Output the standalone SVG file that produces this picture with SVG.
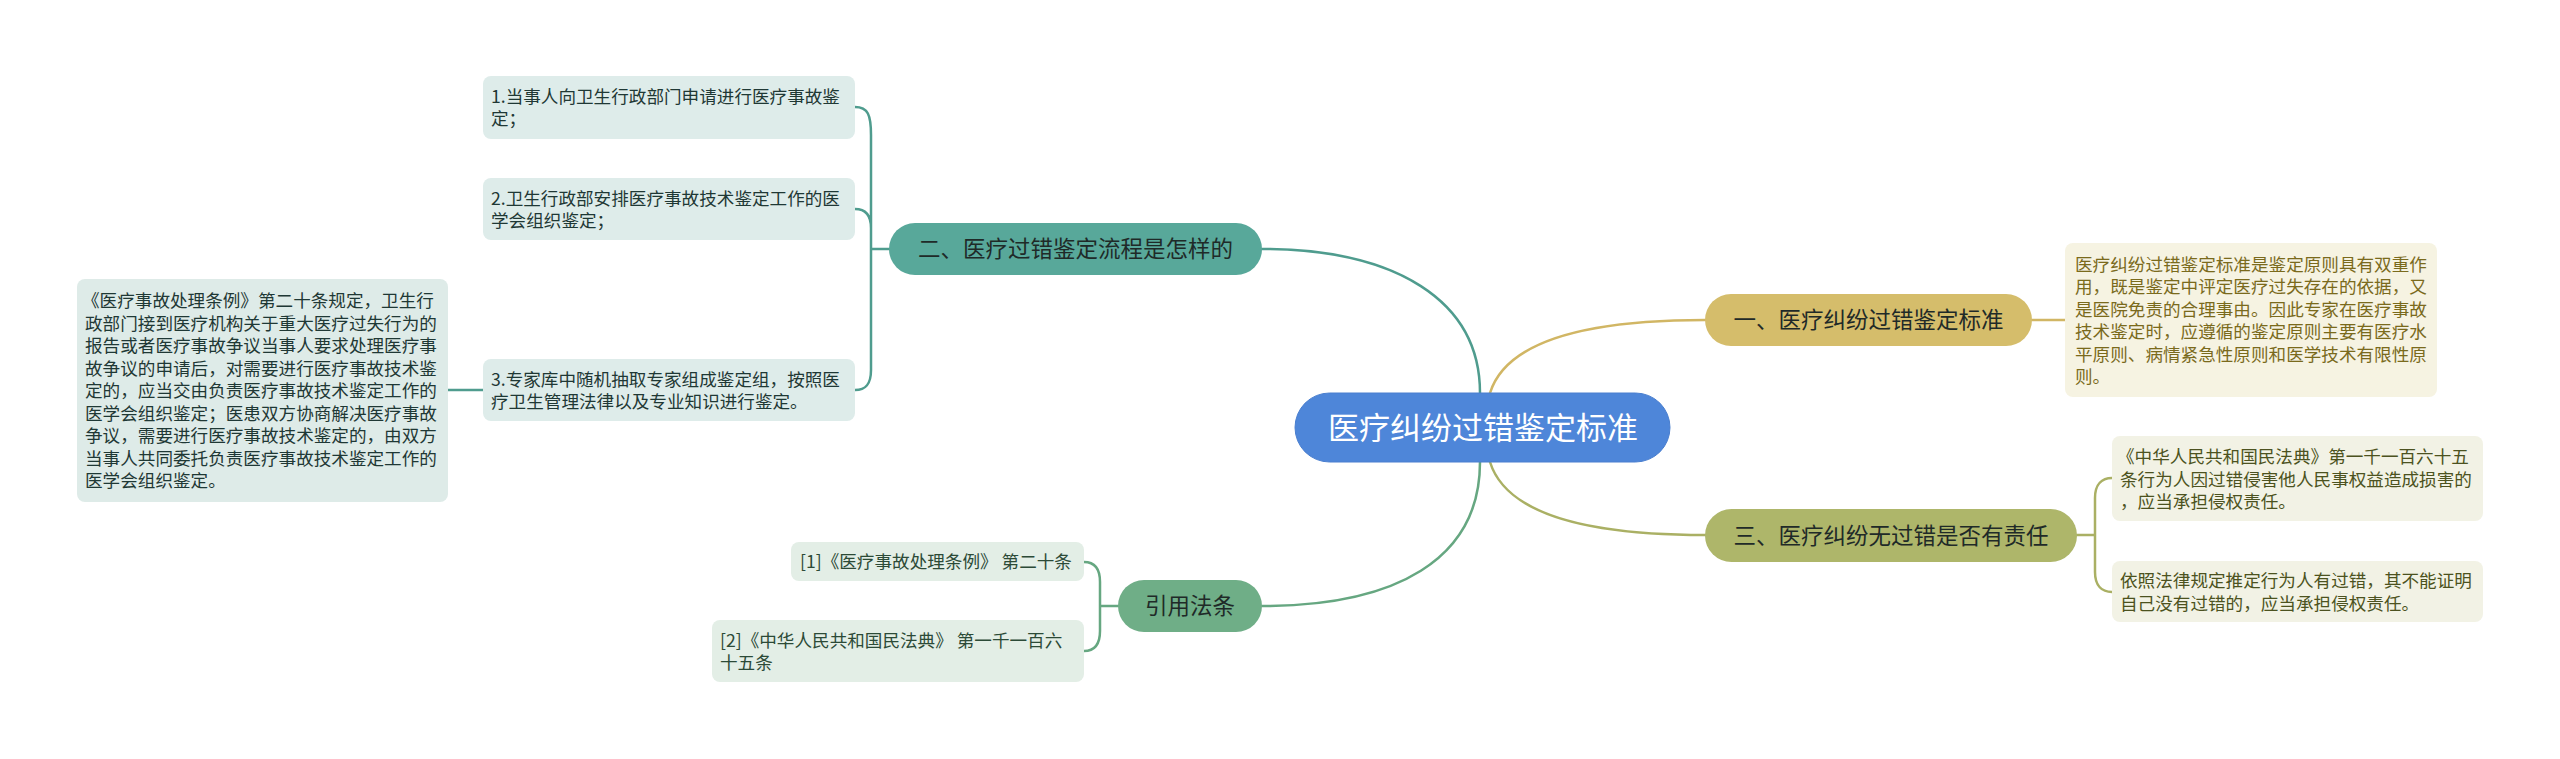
<svg xmlns="http://www.w3.org/2000/svg" width="2560" height="759" viewBox="0 0 2560 759">
<style>
text{font-family:"Microsoft YaHei","Noto Sans CJK SC","Noto Sans",sans-serif;}
.leaf{font-size:17.6px;}
.main{font-size:22.5px;fill:#1f2a28;text-anchor:middle;}
.conn{fill:none;stroke-width:2.5;stroke-linecap:round;}
</style>
<rect width="2560" height="759" fill="#ffffff"/>
<g id="connectors">
<path class="conn" stroke="#4f9c8e" d="M1480,393 C1480,300 1395,249 1262,249"/>
<path class="conn" stroke="#d1b664" d="M1490,393 C1505,345 1575,320 1705,320"/>
<path class="conn" stroke="#aab064" d="M1490,462 C1505,510 1575,535 1705,535"/>
<path class="conn" stroke="#66a781" d="M1480,462 C1480,560 1395,606 1262,606"/>
<path class="conn" stroke="#4f9c8e" d="M889,249 H871 M871,249 V135 C871,115 868,107 855,107 M871,249 V228 C871,215 866,209 855,209 M871,249 V370 C871,384 866,390 855,390"/>
<path class="conn" stroke="#4f9c8e" d="M448,390 H483"/>
<path class="conn" stroke="#d1b664" d="M2032,320 H2065"/>
<path class="conn" stroke="#aab064" d="M2077,535 H2095 M2095,535 V498 C2095,484 2102,478 2112,478 M2095,535 V572 C2095,586 2102,592 2112,592"/>
<path class="conn" stroke="#66a781" d="M1118,606 H1100 M1100,606 V582 C1100,568 1094,562 1084,562 M1100,606 V631 C1100,645 1094,651 1084,651"/>
</g>
<g id="root">
<rect x="1295" y="393" width="375" height="69" rx="34.5" fill="#4e86d9" stroke="#4a7fcf" stroke-width="1"/>
<text x="1483" y="439" font-size="31" fill="#ffffff" text-anchor="middle">医疗纠纷过错鉴定标准</text>
</g>
<g id="n2">
<rect x="889" y="223" width="373" height="52" rx="26" fill="#58a89a"/>
<text class="main" x="1075.5" y="257">二、医疗过错鉴定流程是怎样的</text>
</g>
<g id="n1">
<rect x="1705" y="294" width="327" height="52" rx="26" fill="#d5bd6b"/>
<text class="main" x="1868.5" y="328">一、医疗纠纷过错鉴定标准</text>
</g>
<g id="n3">
<rect x="1705" y="509" width="372" height="53" rx="26.5" fill="#aeb66a"/>
<text class="main" x="1891" y="544">三、医疗纠纷无过错是否有责任</text>
</g>
<g id="n4">
<rect x="1118" y="580" width="144" height="52" rx="26" fill="#6fae87"/>
<text class="main" x="1190" y="614">引用法条</text>
</g>
<g id="n2-1">
<rect x="483" y="76" width="372" height="63" rx="8" fill="#deecea"/>
<text class="leaf" fill="#1f3835"><tspan x="491" y="103">1.当事人向卫生行政部门申请进行医疗事故鉴</tspan><tspan x="491" y="125">定；</tspan></text>
</g>
<g id="n2-2">
<rect x="483" y="178" width="372" height="62" rx="8" fill="#deecea"/>
<text class="leaf" fill="#1f3835"><tspan x="491" y="205">2.卫生行政部安排医疗事故技术鉴定工作的医</tspan><tspan x="491" y="227">学会组织鉴定；</tspan></text>
</g>
<g id="n2-3">
<rect x="483" y="359" width="372" height="62" rx="8" fill="#deecea"/>
<text class="leaf" fill="#1f3835"><tspan x="491" y="386">3.专家库中随机抽取专家组成鉴定组，按照医</tspan><tspan x="491" y="408">疗卫生管理法律以及专业知识进行鉴定。</tspan></text>
</g>
<g id="n2-3-1">
<rect x="77" y="279" width="371" height="223" rx="8" fill="#deebe8"/>
<text class="leaf" fill="#1f3835"><tspan x="82" y="307">《医疗事故处理条例》第二十条规定，卫生行</tspan><tspan x="85" y="329.5">政部门接到医疗机构关于重大医疗过失行为的</tspan><tspan x="85" y="352">报告或者医疗事故争议当事人要求处理医疗事</tspan><tspan x="85" y="374.5">故争议的申请后，对需要进行医疗事故技术鉴</tspan><tspan x="85" y="397">定的，应当交由负责医疗事故技术鉴定工作的</tspan><tspan x="85" y="419.5">医学会组织鉴定；医患双方协商解决医疗事故</tspan><tspan x="85" y="442">争议，需要进行医疗事故技术鉴定的，由双方</tspan><tspan x="85" y="464.5">当事人共同委托负责医疗事故技术鉴定工作的</tspan><tspan x="85" y="487">医学会组织鉴定。</tspan></text>
</g>
<g id="n1-1">
<rect x="2065" y="243" width="372" height="154" rx="8" fill="#f6f3e2"/>
<text class="leaf" fill="#7a6a1c"><tspan x="2075" y="270.5">医疗纠纷过错鉴定标准是鉴定原则具有双重作</tspan><tspan x="2075" y="293">用，既是鉴定中评定医疗过失存在的依据，又</tspan><tspan x="2075" y="315.5">是医院免责的合理事由。因此专家在医疗事故</tspan><tspan x="2075" y="338">技术鉴定时，应遵循的鉴定原则主要有医疗水</tspan><tspan x="2075" y="360.5">平原则、病情紧急性原则和医学技术有限性原</tspan><tspan x="2075" y="383">则。</tspan></text>
</g>
<g id="n3-1">
<rect x="2112" y="436" width="371" height="85" rx="8" fill="#f2f2e5"/>
<text class="leaf" fill="#4c5220"><tspan x="2117" y="463">《中华人民共和国民法典》第一千一百六十五</tspan><tspan x="2120" y="485.5">条行为人因过错侵害他人民事权益造成损害的</tspan><tspan x="2120" y="508">，应当承担侵权责任。</tspan></text>
</g>
<g id="n3-2">
<rect x="2112" y="561" width="371" height="61" rx="8" fill="#f2f2e5"/>
<text class="leaf" fill="#4c5220"><tspan x="2120" y="587">依照法律规定推定行为人有过错，其不能证明</tspan><tspan x="2120" y="609.5">自己没有过错的，应当承担侵权责任。</tspan></text>
</g>
<g id="n4-1">
<rect x="791" y="542" width="293" height="39" rx="8" fill="#e3eee6"/>
<text class="leaf" fill="#2c4a37" x="800" y="568">[1]《医疗事故处理条例》 第二十条</text>
</g>
<g id="n4-2">
<rect x="712" y="620" width="372" height="62" rx="8" fill="#e3eee6"/>
<text class="leaf" fill="#2c4a37"><tspan x="720" y="646.5">[2]《中华人民共和国民法典》 第一千一百六</tspan><tspan x="720" y="669">十五条</tspan></text>
</g>
</svg>
